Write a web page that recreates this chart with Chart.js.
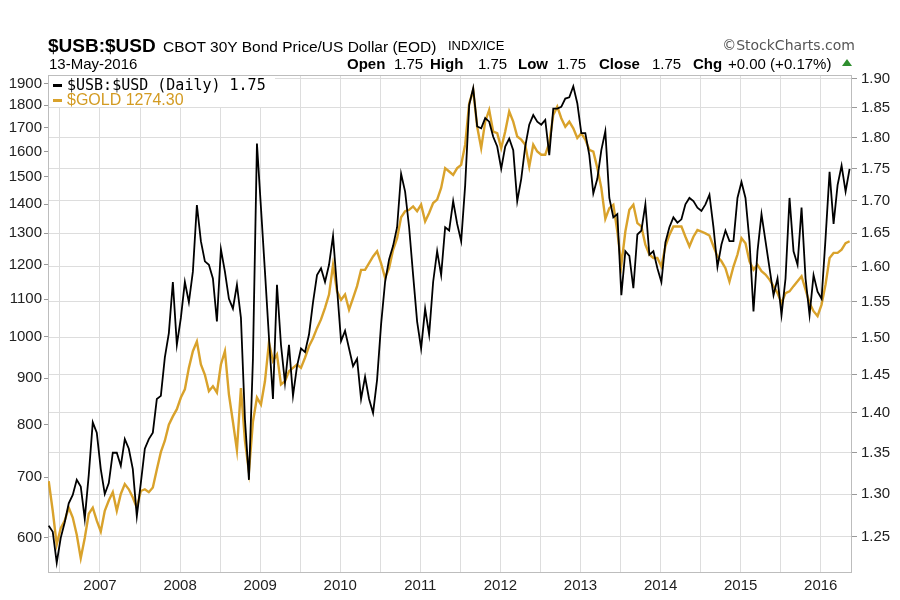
<!DOCTYPE html>
<html><head><meta charset="utf-8">
<script src="https://cdn.jsdelivr.net/npm/chart.js@4/dist/chart.umd.min.js"></script>
<style>
html,body{margin:0;padding:0;background:#fff;}
#wrap{position:relative;width:900px;height:600px;overflow:hidden;background:#fff;}
#c{position:absolute;left:0;top:0;}
.t{position:absolute;white-space:pre;line-height:1;font-family:"Liberation Sans",Arial,sans-serif;color:#000;}
.b{font-weight:bold;}
</style></head><body>
<div id="wrap">
<canvas id="c" width="900" height="600"></canvas>
<div class="t b" style="left:48px;top:36px;font-size:19px;">$USB:$USD</div>
<div class="t" style="left:163px;top:39px;font-size:15.5px;">CBOT 30Y Bond Price/US Dollar (EOD)</div>
<div class="t" style="left:448px;top:39px;font-size:13px;">INDX/ICE</div>
<div class="t" style="right:45px;top:38px;font-size:14px;font-family:'DejaVu Sans',sans-serif;color:#555;">©StockCharts.com</div>
<div class="t" style="left:49px;top:56px;font-size:15px;">13-May-2016</div>
<div class="t b" style="left:347px;top:56px;font-size:15px;">Open</div>
<div class="t" style="left:394px;top:56px;font-size:15px;">1.75</div>
<div class="t b" style="left:430px;top:56px;font-size:15px;">High</div>
<div class="t" style="left:478px;top:56px;font-size:15px;">1.75</div>
<div class="t b" style="left:518px;top:56px;font-size:15px;">Low</div>
<div class="t" style="left:557px;top:56px;font-size:15px;">1.75</div>
<div class="t b" style="left:599px;top:56px;font-size:15px;">Close</div>
<div class="t" style="left:652px;top:56px;font-size:15px;">1.75</div>
<div class="t b" style="left:693px;top:56px;font-size:15px;">Chg</div>
<div class="t" style="left:728px;top:56px;font-size:15px;">+0.00 (+0.17%)</div>
<div style="position:absolute;left:842px;top:59px;width:0;height:0;border-left:5px solid transparent;border-right:5px solid transparent;border-bottom:7px solid #2f8f2f;"></div>
<div style="position:absolute;left:49px;top:76px;width:226px;height:31px;background:#fff;"></div>
<div style="position:absolute;left:53px;top:84px;width:9px;height:3px;background:#000;"></div>
<div class="t" style="left:67px;top:77.5px;font-size:15px;font-family:'DejaVu Sans Mono',monospace;">$USB:$USD (Daily) 1.75</div>
<div style="position:absolute;left:53px;top:99px;width:9px;height:3px;background:#D9A22B;"></div>
<div class="t" style="left:67px;top:91.5px;font-size:16px;color:#D39B22;">$GOLD 1274.30</div>
</div>
<script>
// sample dates (decimal years)
const dates = [
2006.36,2006.41,2006.46,2006.51,2006.56,2006.61,2006.66,2006.71,2006.76,2006.81,2006.86,2006.91,2006.96,
2007.01,2007.06,2007.11,2007.16,2007.21,2007.26,2007.31,2007.36,2007.41,2007.46,2007.51,2007.56,2007.61,2007.66,2007.71,2007.76,2007.81,2007.86,2007.91,2007.96,
2008.01,2008.06,2008.11,2008.16,2008.21,2008.26,2008.31,2008.36,2008.41,2008.46,2008.51,2008.56,2008.61,2008.66,2008.71,2008.76,2008.81,2008.86,2008.91,2008.96,
2009.01,2009.06,2009.11,2009.16,2009.21,2009.26,2009.31,2009.36,2009.41,2009.46,2009.51,2009.56,2009.61,2009.66,2009.71,2009.76,2009.81,2009.86,2009.91,2009.96,
2010.01,2010.06,2010.11,2010.16,2010.21,2010.26,2010.31,2010.36,2010.41,2010.46,2010.51,2010.56,2010.61,2010.66,2010.71,2010.76,2010.81,2010.86,2010.91,2010.96,
2011.01,2011.06,2011.11,2011.16,2011.21,2011.26,2011.31,2011.36,2011.41,2011.46,2011.51,2011.56,2011.61,2011.66,2011.71,2011.76,2011.81,2011.86,2011.91,2011.96,
2012.01,2012.06,2012.11,2012.16,2012.21,2012.26,2012.31,2012.36,2012.41,2012.46,2012.51,2012.56,2012.61,2012.66,2012.71,2012.76,2012.81,2012.86,2012.91,2012.96,
2013.01,2013.06,2013.11,2013.16,2013.21,2013.26,2013.31,2013.36,2013.41,2013.46,2013.51,2013.56,2013.61,2013.66,2013.71,2013.76,2013.81,2013.86,2013.91,2013.96,
2014.01,2014.06,2014.11,2014.16,2014.21,2014.26,2014.31,2014.36,2014.41,2014.46,2014.51,2014.56,2014.61,2014.66,2014.71,2014.76,2014.81,2014.86,2014.91,2014.96,
2015.01,2015.06,2015.11,2015.16,2015.21,2015.26,2015.31,2015.36,2015.41,2015.46,2015.51,2015.56,2015.61,2015.66,2015.71,2015.76,2015.81,2015.86,2015.91,2015.96,
2016.01,2016.06,2016.11,2016.16,2016.21,2016.26,2016.31,2016.36
];
// $USB:$USD (right axis)
const usbValues = [
1.263,1.256,1.221,1.249,1.267,1.289,1.299,1.317,1.309,1.271,
1.323,1.388,1.375,1.330,1.300,1.313,1.350,1.350,1.334,1.367,
1.355,1.330,1.274,1.313,1.355,1.367,1.375,1.418,1.422,1.473,
1.506,1.578,1.490,1.527,1.578,1.549,1.593,1.693,1.638,1.608,
1.603,1.583,1.522,1.626,1.593,1.554,1.540,1.574,1.527,1.392,
1.317,1.471,1.791,1.689,1.593,1.500,1.418,1.574,1.490,1.439,
1.490,1.422,1.461,1.485,1.480,1.504,1.549,1.588,1.598,1.578,
1.603,1.646,1.569,1.495,1.509,1.485,1.461,1.471,1.418,1.447,
1.418,1.400,1.443,1.518,1.578,1.611,1.631,1.659,1.742,1.714,
1.659,1.588,1.522,1.485,1.540,1.504,1.578,1.623,1.588,1.659,
1.654,1.699,1.664,1.638,1.724,1.855,1.884,1.819,1.816,1.833,
1.827,1.802,1.786,1.750,1.786,1.799,1.780,1.699,1.734,1.786,
1.822,1.838,1.827,1.822,1.830,1.772,1.849,1.849,1.852,1.866,
1.868,1.887,1.858,1.808,1.808,1.772,1.711,1.734,1.780,1.811,
1.704,1.674,1.679,1.559,1.623,1.616,1.569,1.648,1.654,1.694,
1.618,1.623,1.598,1.578,1.636,1.659,1.674,1.666,1.671,1.694,
1.704,1.699,1.689,1.684,1.694,1.709,1.659,1.600,1.633,1.654,
1.638,1.638,1.704,1.729,1.704,1.638,1.536,1.623,1.679,1.638,
1.598,1.559,1.583,1.531,1.583,1.704,1.623,1.603,1.689,1.583,
1.531,1.588,1.564,1.554,1.643,1.745,1.664,1.724,1.755,1.714,
1.750
];
// $GOLD (left axis)
const goldValues = [
693,643,590,615,627,648,632,605,570,600,
638,648,627,610,643,660,674,643,671,688,
679,665,648,676,679,674,682,714,746,768,
800,817,832,857,875,924,964,988,932,908,
871,882,868,932,964,864,806,750,878,768,
710,806,857,842,893,985,940,956,886,893,
916,924,932,924,948,976,996,1022,1045,1076,
1113,1200,1122,1098,1113,1071,1103,1137,1185,1185,
1205,1226,1242,1205,1161,1190,1247,1284,1354,1375,
1380,1392,1375,1398,1340,1369,1404,1416,1459,1534,
1521,1508,1534,1547,1628,1808,1870,1704,1614,1726,
1778,1683,1676,1614,1683,1771,1726,1662,1649,1628,
1540,1628,1600,1587,1587,1635,1756,1793,1741,1704,
1726,1697,1656,1676,1649,1607,1600,1534,1459,1349,
1386,1398,1306,1200,1306,1380,1398,1334,1323,1263,
1232,1221,1221,1195,1258,1295,1323,1323,1323,1289,
1258,1289,1311,1306,1300,1293,1258,1226,1211,1190,
1150,1195,1232,1284,1268,1211,1185,1200,1181,1171,
1156,1137,1117,1089,1117,1122,1137,1151,1166,1127,
1089,1067,1054,1085,1142,1221,1237,1237,1247,1268,
1274.3
];
const leftTicks = [600,700,800,900,1000,1100,1200,1300,1400,1500,1600,1700,1800,1900];
const rightTicks = [1.25,1.30,1.35,1.40,1.45,1.50,1.55,1.60,1.65,1.70,1.75,1.80,1.85,1.90];
const xGridTicks = [2006.5,2007,2007.5,2008,2008.5,2009,2009.5,2010,2010.5,2011,2011.5,2012,2012.5,2013,2013.5,2014,2014.5,2015,2015.5,2016];
const yearLabels = [2007,2008,2009,2010,2011,2012,2013,2014,2015,2016];

Chart.defaults.font.family = '"Liberation Sans", Arial, sans-serif';
const axisFont = {size:15};
const framePlugin = {
  id:'frame',
  beforeDatasetsDraw(c){
    const a=c.chartArea, ctx=c.ctx;
    ctx.save(); ctx.strokeStyle='#bdbdbd'; ctx.lineWidth=1;
    ctx.strokeRect(Math.round(a.left)+0.5, Math.round(a.top)+0.5, Math.round(a.right-a.left)-1, Math.round(a.bottom-a.top)-1);
    ctx.restore();
  }
};
new Chart(document.getElementById('c'), {
  type:'line',
  data:{datasets:[
    {label:'$USB:$USD (Daily) 1.75', data:dates.map((d,i)=>({x:d,y:usbValues[i]})), yAxisID:'yR',
     borderColor:'#000', borderWidth:1.8, pointRadius:0, tension:0, order:0},
    {label:'$GOLD 1274.30', data:dates.map((d,i)=>({x:d,y:goldValues[i]})), yAxisID:'yL',
     borderColor:'#D9A22B', borderWidth:2.4, pointRadius:0, tension:0, order:1}
  ]},
  options:{
    responsive:false, animation:false, events:[],
    layout:{padding:{top:75,left:0,right:0,bottom:0}},
    plugins:{legend:{display:false}, tooltip:{enabled:false}},
    scales:{
      x:{type:'linear', position:'bottom', min:2006.351, max:2016.39,
        afterBuildTicks:s=>{s.ticks = xGridTicks.map(v=>({value:v}));},
        afterFit:s=>{s.height=27;},
        grid:{color:'#dddddd', drawTicks:false},
        border:{display:false},
        ticks:{autoSkip:false, maxRotation:0, padding:4, color:'#222', font:axisFont,
          callback:v=> yearLabels.includes(v) ? String(v) : ''}
      },
      yL:{type:'logarithmic', position:'left', min:549, max:1943,
        afterBuildTicks:s=>{s.ticks = leftTicks.map(v=>({value:v}));},
        afterFit:s=>{s.width=48;},
        grid:{drawOnChartArea:false, tickLength:4, color:'#999'},
        border:{display:false},
        ticks:{autoSkip:false, padding:2, color:'#222', font:axisFont, callback:v=>String(v)}
      },
      yR:{type:'logarithmic', position:'right', min:1.2095, max:1.9066,
        afterBuildTicks:s=>{s.ticks = rightTicks.map(v=>({value:v}));},
        afterFit:s=>{s.width=48;},
        grid:{color:'#dddddd', tickColor:'#999', tickLength:5},
        border:{display:false},
        ticks:{autoSkip:false, padding:4, color:'#222', font:axisFont, callback:v=>Number(v).toFixed(2)}
      }
    }
  },
  plugins:[framePlugin]
});
</script>
</body></html>
